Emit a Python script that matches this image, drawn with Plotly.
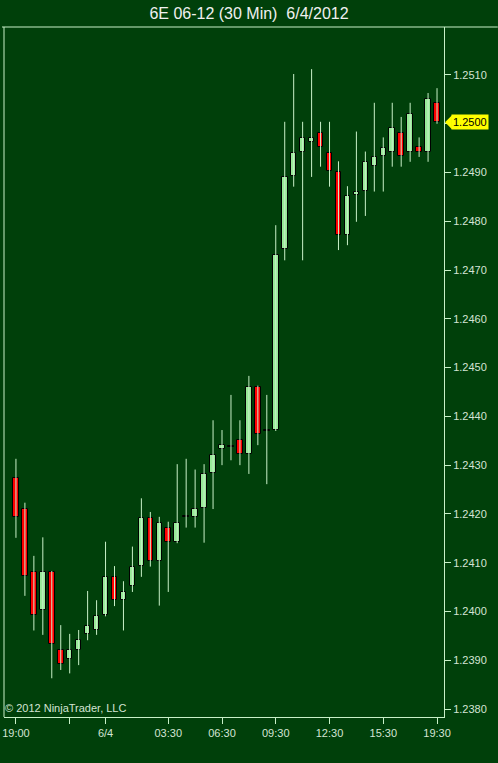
import plotly.graph_objects as go

# 30-minute bars, 6E 06-12, 6/3 19:00 .. 6/4 19:30 (session gap skipped)
open_ = [1.24273, 1.24211, 1.24081, 1.24003, 1.24081, 1.23921, 1.23902, 1.23922,
         1.23954, 1.23962, 1.23993, 1.24071, 1.24023, 1.24052, 1.24093, 1.24192,
         1.24104, 1.24172, 1.24142, 1.24194, 1.24194, 1.24213, 1.24284, 1.24333,
         1.24339, 1.24351, 1.24323, 1.24461, 1.24372, 1.24372, 1.24743, 1.24893,
         1.24942, 1.24963, 1.24982, 1.24941, 1.24902, 1.24772, 1.24854, 1.24862,
         1.24913, 1.24934, 1.24943, 1.24982, 1.24943, 1.24952, 1.24943, 1.25042]
high = [1.24313, 1.24223, 1.24114, 1.24152, 1.24083, 1.23972, 1.23954, 1.23962,
        1.24042, 1.24023, 1.24143, 1.24093, 1.24062, 1.24133, 1.24232, 1.24204,
        1.24194, 1.24184, 1.24302, 1.24313, 1.24291, 1.24302, 1.24392, 1.24372,
        1.24444, 1.24392, 1.24483, 1.24463, 1.24444, 1.24792, 1.25004, 1.25102,
        1.25004, 1.25112, 1.25004, 1.25004, 1.24923, 1.24872, 1.24984, 1.24943,
        1.25043, 1.24972, 1.25043, 1.25014, 1.25043, 1.24972, 1.25063, 1.25073]
low = [1.24151, 1.24032, 1.23961, 1.23952, 1.23863, 1.23880, 1.23873, 1.23890,
       1.23941, 1.23952, 1.23990, 1.24011, 1.23961, 1.24040, 1.24071, 1.24092,
       1.24012, 1.24040, 1.24140, 1.24172, 1.24172, 1.24141, 1.24210, 1.24300,
       1.24310, 1.24300, 1.24282, 1.24341, 1.24261, 1.24370, 1.24720, 1.24871,
       1.24720, 1.24891, 1.24912, 1.24871, 1.24741, 1.24751, 1.24799, 1.24811,
       1.24861, 1.24861, 1.24912, 1.24912, 1.24922, 1.24932, 1.24922, 1.25000]
close = [1.24193, 1.24073, 1.23993, 1.24081, 1.23933, 1.23892, 1.23921, 1.23941,
         1.23970, 1.23991, 1.24071, 1.24023, 1.24040, 1.24092, 1.24192, 1.24103,
         1.24181, 1.24142, 1.24181, 1.24194, 1.24210, 1.24282, 1.24321, 1.24341,
         1.24339, 1.24323, 1.24461, 1.24364, 1.24372, 1.24731, 1.24891, 1.24940,
         1.24971, 1.24971, 1.24952, 1.24903, 1.24772, 1.24852, 1.24861, 1.24922,
         1.24932, 1.24951, 1.24992, 1.24934, 1.25021, 1.24943, 1.25050, 1.25003]

tick_index = [0, 6, 10, 17, 23, 29, 35, 41, 47]
tick_text = ["19:00", "", "6/4", "03:30", "06:30", "09:30", "12:30", "15:30", "19:30"]
y_ticks = [1.2380 + 0.0010 * k for k in range(14)]

BG = "#00400a"
PALE = "#c8f0c8"
UP = "#98ea98"
DOWN = "#ff0000"
TXT = "#d4e4d4"
FONT = "Liberation Sans, Arial, sans-serif"

n = len(open_)
xs = list(range(n))

# wicks
wx, wy = [], []
for i in xs:
    wx += [i, i, None]
    wy += [low[i], high[i], None]

fig = go.Figure()
fig.add_trace(go.Scatter(x=wx, y=wy, mode="lines",
                         line=dict(color=PALE, width=1), hoverinfo="skip",
                         showlegend=False))

base, height, colors = [], [], []
eps = 0.00002
for i in xs:
    o, c = open_[i], close[i]
    lo = min(o, c)
    h = abs(c - o)
    if h < eps:
        base.append(lo - eps / 2)
        height.append(eps)
        colors.append("#000000")
    else:
        base.append(lo)
        height.append(h)
        colors.append(UP if c > o else DOWN)

fig.add_trace(go.Bar(x=xs, y=height, base=base, width=0.62,
                     marker=dict(color=colors, line=dict(color="#000000", width=1)),
                     showlegend=False, hoverinfo="skip"))

last = close[-1]
last_label = f"{last:.4f}"
# plot area: x 2..444 px, y 27..717 px
W, H = 498, 763
L, R, T, B = 2, 54, 27, 46
pw = W - L - R
def px2paper(px):
    return (px - L) / pw

ppx = 48.77 / 0.0010  # px per price unit
half = 7 / ppx
fig.add_shape(type="path", xref="paper", yref="y",
              path=f"M {px2paper(445)},{last} L {px2paper(452)},{last + half} "
                   f"L {px2paper(452)},{last - half} Z",
              fillcolor="#ffff00", line=dict(width=0), layer="above")
fig.add_annotation(xref="paper", yref="y", x=px2paper(451), y=last,
                   xanchor="left", yanchor="middle", text=last_label,
                   showarrow=False, bgcolor="#ffff00", borderpad=1,
                   font=dict(family=FONT, size=11, color="#000000"))

# frame lines
fig.add_shape(type="line", xref="paper", yref="paper",
              x0=px2paper(0), x1=px2paper(498), y0=1, y1=1,
              line=dict(color=PALE, width=1))
fig.add_shape(type="line", xref="paper", yref="paper",
              x0=0, x1=0, y0=0, y1=1, line=dict(color=PALE, width=1))

fig.add_annotation(xref="paper", yref="paper", x=0, y=0, xanchor="left",
                   yanchor="bottom", yshift=1, xshift=-1,
                   text="© 2012 NinjaTrader, LLC",
                   showarrow=False, font=dict(family=FONT, size=11, color=TXT))

# the price tag covers the tick label at the same level
y_text = [("" if f"{v:.4f}" == last_label else f"{v:.4f}") for v in y_ticks]

fig.update_layout(
    width=W, height=H,
    margin=dict(l=L, r=R, t=T, b=B, pad=0),
    paper_bgcolor=BG, plot_bgcolor=BG,
    bargap=0,
    title=dict(text="6E 06-12 (30 Min)\u00a0 6/4/2012", x=0.5, xref="container",
               y=1 - 13 / H, yanchor="middle", xanchor="center",
               font=dict(family=FONT, size=16, color="#f0f0f0")),
    xaxis=dict(range=[(L - 14) / 9, (W - R - 14) / 9], tickmode="array",
               tickvals=tick_index, ticktext=tick_text, ticks="outside",
               ticklen=6, tickcolor=PALE, showline=True, linecolor=PALE,
               linewidth=1, showgrid=False, zeroline=False,
               tickfont=dict(family=FONT, size=11, color=TXT)),
    yaxis=dict(side="right", range=[1.2380 - 8 / ppx, 1.2380 + 682 / ppx],
               tickmode="array", tickvals=y_ticks,
               ticktext=y_text, ticks="outside",
               ticklen=6, tickcolor=PALE, showline=True, linecolor=PALE,
               linewidth=1, showgrid=False, zeroline=False,
               tickfont=dict(family=FONT, size=11, color=TXT)),
)

fig.write_html("out.html", config={"displayModeBar": False},
               post_script="document.body.style.margin='0';document.body.style.overflow='hidden';")
